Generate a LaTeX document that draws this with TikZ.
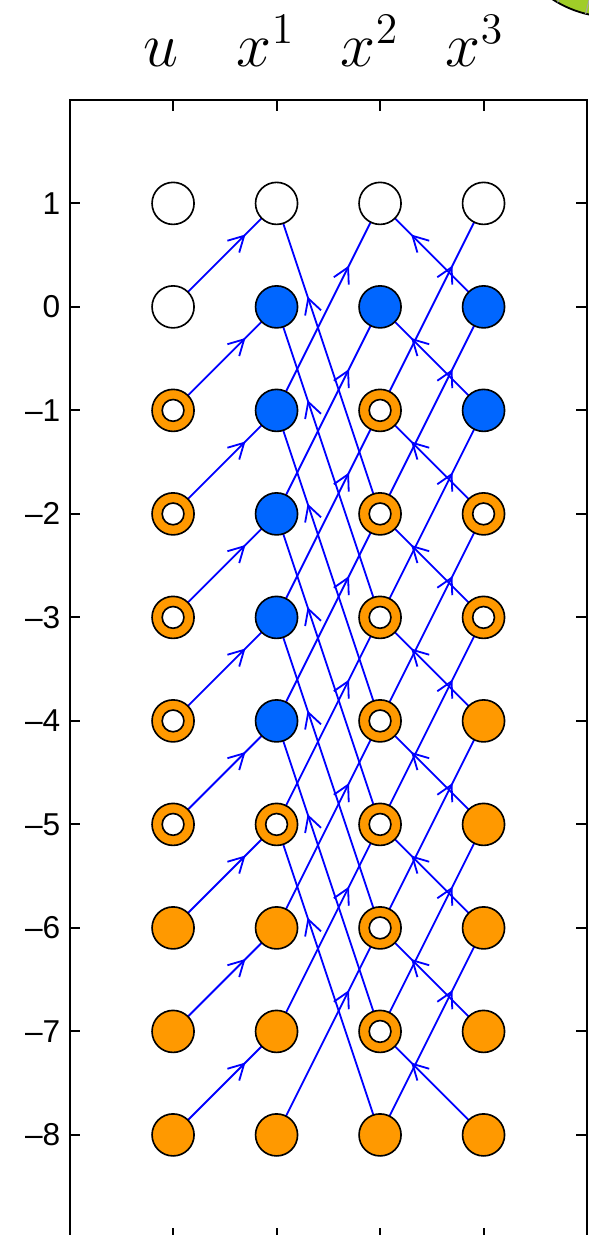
\documentclass[tikz,border=0pt]{standalone}
\usepackage{fontspec}
\newfontfamily\labfont{Liberation Sans}
\usetikzlibrary{arrows.meta,decorations.markings}
\pgfdeclarelayer{bg}
\pgfsetlayers{bg,main}
\definecolor{nblue}{RGB}{0,102,255}
\definecolor{norange}{RGB}{255,153,0}
\definecolor{eblue}{RGB}{0,0,255}
\definecolor{leaf}{RGB}{160,205,40}
\tikzset{
  vbase/.style={circle, draw=black, line width=0.45pt, minimum size=0.406cm, inner sep=0pt, outer sep=0pt},
  W/.style={vbase, fill=white},
  B/.style={vbase, fill=nblue},
  O/.style={vbase, fill=norange},
  R/.style={vbase, fill=norange, path picture={\draw[line width=0.45pt, fill=white] (path picture bounding box.center) circle (0.105cm);}},
  kind/.style={#1},
  edge/.style={draw=eblue, color=eblue, line width=0.5pt,
    decoration={markings, mark=at position 0.7 with {\arrow{Straight Barb[length=4.2pt,width=4.6pt,line width=0.5pt]}}},
    postaction={decorate}},
  axisline/.style={line width=0.55pt, draw=black},
  ticklab/.style={anchor=east, inner sep=0pt, font=\labfont\fontsize{8.7}{10}\selectfont},
  title/.style={anchor=base, inner sep=0pt, font=\fontsize{18.5}{20}\selectfont}
}
\begin{document}
\begin{tikzpicture}
\useasboundingbox (-0.672,-8.967) rectangle (5.009,2.965);
% green shape from neighbouring figure
\draw[fill=leaf, line width=0.5pt] (5.241,3.854) circle (1.053);
\draw[gray!70, line width=0.3pt] (5.241,3.854) -- ++(240:1.053);
\draw[gray!70, line width=0.3pt] (5.241,3.854) -- ++(256:1.053);
% axes box
\draw[axisline] (0,-9) rectangle (5,2);
\foreach \x in {1,...,4} {
  \draw[axisline] (\x,2) -- (\x,1.895);
  \draw[axisline] (\x,-9) -- (\x,-8.895);
}
\foreach \y in {-8,...,1} {
  \draw[axisline] (0,\y) -- (0.105,\y);
  \draw[axisline] (5,\y) -- (4.895,\y);
}
\foreach \y/\t in {1/1,0/0,-1/–1,-2/–2,-3/–3,-4/–4,-5/–5,-6/–6,-7/–7,-8/–8}
  \node[ticklab] (yl\y) at (-0.083,\y) {\t};
% column titles
\node[title] (tu) at (0.885,2.327) {$u$};
\node[title] (t1) at (1.898,2.327) {$x^1$};
\node[title] (t2) at (2.902,2.327) {$x^2$};
\node[title] (t3) at (3.917,2.327) {$x^3$};
% nodes
\foreach \r/\types in {0/{W,W,W,W},1/{W,B,B,B},2/{R,B,R,B},3/{R,B,R,R},4/{R,B,R,R},5/{R,B,R,O},6/{R,R,R,O},7/{O,O,R,O},8/{O,O,R,O},9/{O,O,O,O}} {
  \foreach \t [count=\c from 0] in \types {
    \node[kind/.expanded=\t] (n\c-\r) at (\c+1,1-\r) {};
  }
}
% edges
\begin{pgfonlayer}{bg}
\foreach \r [evaluate=\r as \s using int(\r-1)] in {1,...,9}
  \draw[edge] (n0-\r.center) -- (n1-\s.center);
\foreach \r [evaluate=\r as \s using int(\r+3)] in {0,...,6}
  \draw[edge] (n2-\s.center) -- (n1-\r.center);
\foreach \r [evaluate=\r as \s using int(\r-2)] in {2,...,9}
  \draw[edge] (n1-\r.center) -- (n2-\s.center);
\foreach \r [evaluate=\r as \s using int(\r-1)] in {1,...,9}
  \draw[edge] (n3-\r.center) -- (n2-\s.center);
\foreach \r [evaluate=\r as \s using int(\r-2)] in {2,...,9}
  \draw[edge] (n2-\r.center) -- (n3-\s.center);
\end{pgfonlayer}
\end{tikzpicture}
\end{document}
